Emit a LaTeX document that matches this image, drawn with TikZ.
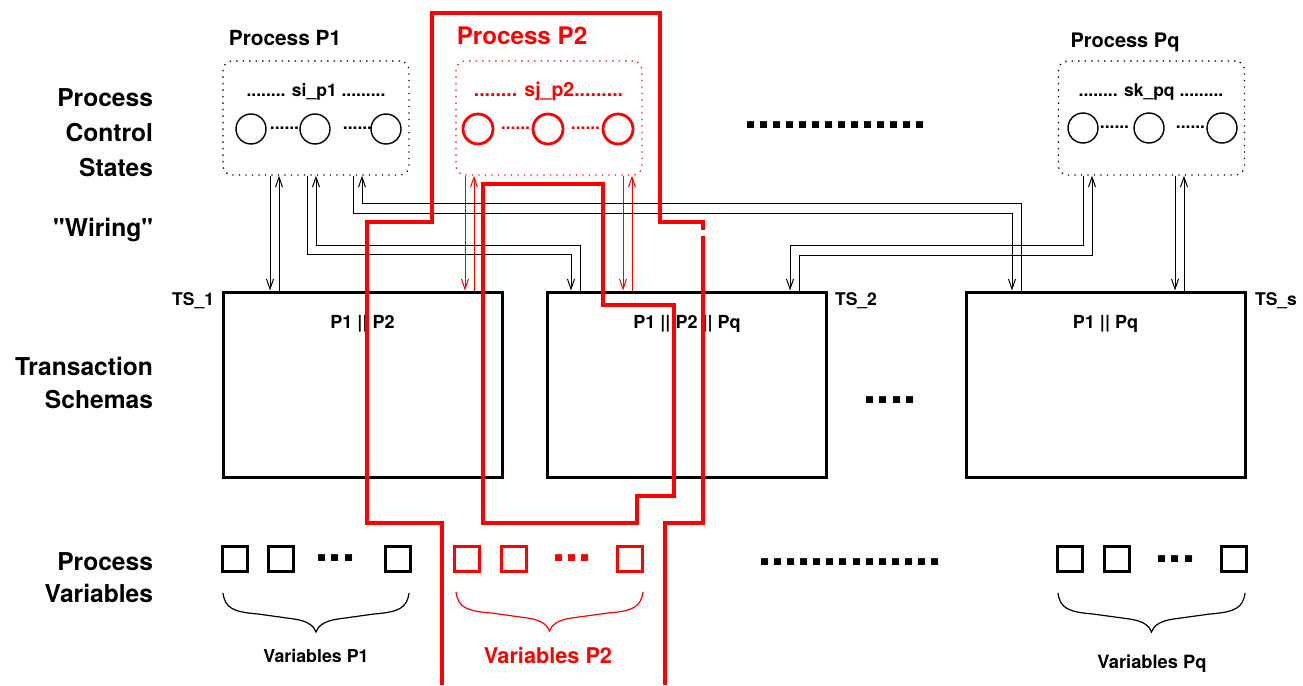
\documentclass[tikz,border=0pt]{standalone}
\usepackage{fontspec}
\setmainfont[Ligatures=TeXOff]{TeX Gyre Heros}
\usetikzlibrary{arrows.meta,calc}
\definecolor{pred}{RGB}{255,0,0}
\newcommand{\hv}[1]{\fontsize{#1}{#1}\selectfont\bfseries}
\newcommand{\varbrace}[4]{%
  \pgfmathsetmacro{\tip}{(#1+#2)/2}%
  \draw[#4] (#1,#3) .. controls (#1+2,#3+15) and (#1+10,#3+19) .. (#1+35,#3+21)
    -- (\tip-22,#3+26) .. controls (\tip-8,#3+28) and (\tip-2,#3+33) .. (\tip,#3+39)
    .. controls (\tip+2,#3+33) and (\tip+8,#3+28) .. (\tip+22,#3+26)
    -- (#2-35,#3+21) .. controls (#2-10,#3+19) and (#2-2,#3+15) .. (#2,#3);}
\begin{document}
\begin{tikzpicture}[x=1pt,y=-1pt,
  txt/.style={inner sep=0pt, outer sep=0pt},
  procbox/.style={draw, line width=1.3pt, dash pattern=on 1.3pt off 5.2pt, rounded corners=9pt, minimum width=186pt, minimum height=114pt, inner sep=0pt},
  stc/.style={draw, circle, line width=1.4pt, minimum size=30pt, inner sep=0pt},
  rstc/.style={stc, draw=pred, line width=2.8pt},
  tsbox/.style={draw, line width=3pt, minimum width=279pt, minimum height=185pt, inner sep=0pt},
  var/.style={draw, line width=3pt, minimum size=25pt, inner sep=0pt},
  rvar/.style={var, draw=pred},
  wire/.style={line width=1pt, -{Straight Barb[length=10pt,width=7pt]}},
  rwire/.style={wire, draw=pred},
  outl/.style={draw=pred, line width=3.3pt},
  brc/.style={line width=1.2pt},
  left/.style={txt, anchor=base east, font=\hv{24.6}},
  bigdots/.style={txt, anchor=base, font=\hv{47}},
  smalldots/.style={txt, anchor=base, font=\hv{17.5}},
]
\path[use as bounding box, fill=white] (0,0) rectangle (1303,685);

% left labels
\node[left] (l1) at (153,106.7) {Process};
\node[left] (l2) at (153,141.7) {Control};
\node[left] (l3) at (153,176.7) {States};
\node[left] (l4) at (153,236.7) {"Wiring"};
\node[left] (l5) at (153,375.7) {Transaction};
\node[left] (l6) at (153,408.7) {Schemas};
\node[left] (l7) at (153,570.7) {Process};
\node[left] (l8) at (153,602.7) {Variables};

% process titles
\node[txt, anchor=base, font=\hv{20.8}] (tp1) at (285,46) {Process P1};
\node[txt, anchor=base, font=\hv{24.2}, text=pred] (tp2) at (522,45) {Process P2};
\node[txt, anchor=base, font=\hv{20}] (tpq) at (1125,48) {Process Pq};

% process boxes
\node[procbox] (pb1) at (316,118) {};
\node[procbox, draw=pred] (pb2) at (549,118) {};
\node[procbox] (pbq) at (1151.5,118) {};

\node[smalldots] (s1) at (316,96) {........ si\_p1 .........};
\node[smalldots, font=\hv{19.5}, text=pred] (s2) at (548.5,96.5) {........ sj\_p2.........};
\node[smalldots] (sq) at (1151,96) {........ sk\_pq .........};

% control states
\node[stc] (c1a) at (251,129) {};
\node[stc] (c1b) at (315,129) {};
\node[stc] (c1c) at (386,129) {};
\node[smalldots] (d1a) at (284.5,129.5) {......};
\node[smalldots] (d1b) at (357.5,129.5) {......};
\node[rstc] (c2a) at (478,129) {};
\node[rstc] (c2b) at (548,129) {};
\node[rstc] (c2c) at (618,129) {};
\node[smalldots, text=pred] (d2a) at (515.5,129.5) {......};
\node[smalldots, text=pred] (d2b) at (585.5,129.5) {......};
\node[stc] (cqa) at (1083,128) {};
\node[stc] (cqb) at (1149,128) {};
\node[stc] (cqc) at (1222,128) {};
\node[smalldots] (dqa) at (1114.5,128.5) {......};
\node[smalldots] (dqb) at (1190.5,128.5) {......};

\node[bigdots] (bd1) at (835.5,128.5) {..............};

% transaction schemas
\node[tsbox] (ts1) at (362.5,384.5) {};
\node[tsbox] (ts2) at (687,384.5) {};
\node[tsbox] (ts3) at (1105.5,384.5) {};
\node[txt, anchor=base east, font=\hv{17.5}] (n1) at (214,305) {TS\_1};
\node[txt, anchor=base west, font=\hv{17.5}] (n2) at (835,305) {TS\_2};
\node[txt, anchor=base west, font=\hv{17.5}] (n3) at (1255,305) {TS\_s};
\node[txt, anchor=base, font=\hv{18}] (t1) at (362.5,328.5) {P1 || P2};
\node[txt, anchor=base, font=\hv{18}] (t2) at (687,328.5) {P1 || P2 || Pq};
\node[txt, anchor=base, font=\hv{18}] (t3) at (1105.5,328.5) {P1 || Pq};
\node[bigdots] (bd2) at (890,403) {....};

% wiring coordinates
\coordinate (xa) at (270,0);
\coordinate (xb) at (279,0);
\coordinate (k1) at (307,254);
\coordinate (k2) at (571,254);
\coordinate (k3) at (580,245);
\coordinate (k4) at (316,245);
\coordinate (k5) at (353,213);
\coordinate (k6) at (1012,213);
\coordinate (k7) at (1021,203);
\coordinate (k8) at (362,203);
\coordinate (k9) at (1083,245);
\coordinate (k10) at (790,245);
\coordinate (k11) at (799,255);
\coordinate (k12) at (1092,255);
\coordinate (xc) at (1175,0);
\coordinate (xd) at (1184,0);
\coordinate (xe) at (465,0);
\coordinate (xf) at (474,0);
\coordinate (xg) at (623,0);
\coordinate (xh) at (632,0);

\draw[wire] (pb1.south -| xa) -- (ts1.north -| xa);
\draw[wire] (ts1.north -| xb) -- (pb1.south -| xb);
\draw[wire] (pb1.south -| k1) -- (k1) -- (k2) -- (ts2.north -| k2);
\draw[wire] (ts2.north -| k3) -- (k3) -- (k4) -- (pb1.south -| k4);
\draw[wire] (pb1.south -| k5) -- (k5) -- (k6) -- (ts3.north -| k6);
\draw[wire] (ts3.north -| k7) -- (k7) -- (k8) -- (pb1.south -| k8);
\draw[wire] (pbq.south -| k9) -- (k9) -- (k10) -- (ts2.north -| k10);
\draw[wire] (ts2.north -| k11) -- (k11) -- (k12) -- (pbq.south -| k12);
\draw[wire] (pbq.south -| xc) -- (ts3.north -| xc);
\draw[wire] (ts3.north -| xd) -- (pbq.south -| xd);
\draw[rwire] (pb2.south -| xe) -- (ts1.north -| xe);
\draw[rwire] (ts1.north -| xf) -- (pb2.south -| xf);
\draw[rwire] (pb2.south -| xg) -- (ts2.north -| xg);
\draw[rwire] (ts2.north -| xh) -- (pb2.south -| xh);

% process variables
\node[var] (v1a) at (235,558.5) {};
\node[var] (v1b) at (281,558.5) {};
\node[var] (v1c) at (397.5,558.5) {};
\node[bigdots] (vd1) at (335.5,561) {...};
\node[rvar] (v2a) at (466.5,558.5) {};
\node[rvar] (v2b) at (513.5,558.5) {};
\node[rvar] (v2c) at (629.5,558.5) {};
\node[bigdots, text=pred] (vd2) at (572,561) {...};
\node[var] (vqa) at (1070,559) {};
\node[var] (vqb) at (1116.5,559) {};
\node[var] (vqc) at (1233.5,559) {};
\node[bigdots] (vdq) at (1175.5,562) {...};
\node[bigdots] (bd3) at (850,565) {..............};

\varbrace{223}{409}{593}{brc}
\varbrace{456}{643}{592}{brc, draw=pred}
\varbrace{1058}{1245}{593}{brc}

\node[txt, anchor=base, font=\hv{17.8}] (vl1) at (316,662.5) {Variables P1};
\node[txt, anchor=base, font=\hv{21.7}, text=pred] (vl2) at (548,663.3) {Variables P2};
\node[txt, anchor=base, font=\hv{18.3}] (vlq) at (1152,668) {Variables Pq};

% red outlines
\draw[outl] (442,685) -- (442,523) -- (367,523) -- (367,222) -- (432,222) -- (432,13) -- (660,13) -- (660,222) -- (703,222) -- (703,230);
\draw[outl] (703,236) -- (703,523) -- (665,523) -- (665,685);
\draw[outl] (483,184) -- (603,184) -- (603,305) -- (674,305) -- (674,496) -- (637,496) -- (637,523) -- (483,523) -- cycle;
\end{tikzpicture}
\end{document}
